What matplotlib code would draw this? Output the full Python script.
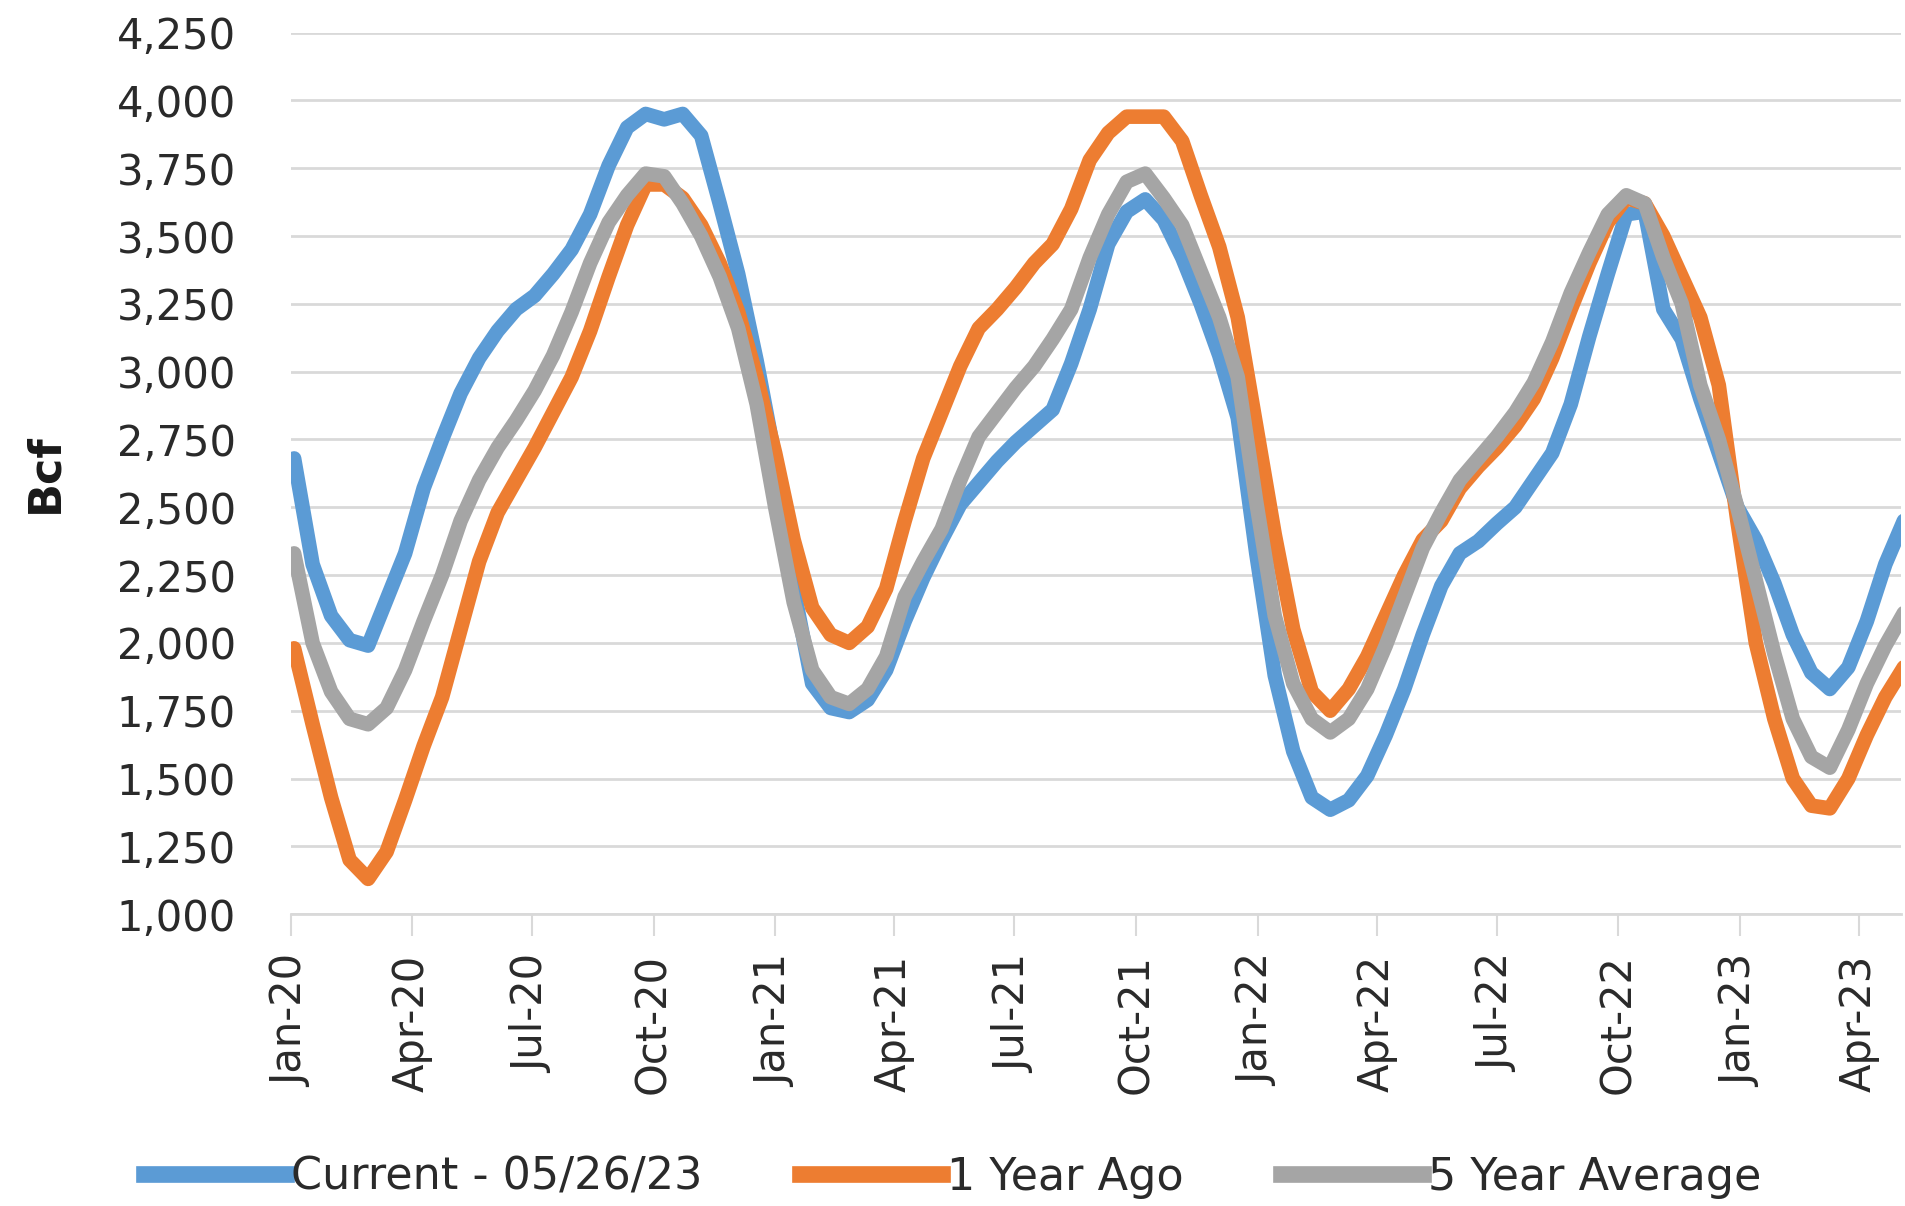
import matplotlib
matplotlib.use('Agg')
import matplotlib.pyplot as plt
import matplotlib.dates as mdates
from matplotlib.lines import Line2D
import matplotlib.ticker as mticker
import pandas as pd

# weekly storage report dates, sampled every second week
dates = pd.date_range('2020-01-03', periods=88, freq='14D')

current = [2680, 2290, 2100, 2010, 1990, 2160, 2330, 2570, 2750, 2920,
           3050, 3150, 3230, 3280, 3360, 3450, 3580, 3760, 3900, 3950,
           3930, 3950, 3870, 3620, 3360, 3040, 2680, 2200, 1850, 1760,
           1745, 1790, 1900, 2080, 2240, 2380, 2510, 2590, 2670, 2740,
           2800, 2860, 3030, 3230, 3470, 3590, 3635, 3560, 3420, 3250,
           3060, 2830, 2330, 1880, 1600, 1430, 1385, 1420, 1510, 1660,
           1830, 2030, 2210, 2330, 2375, 2440, 2500, 2600, 2700, 2880,
           3130, 3360, 3580, 3590, 3230, 3120, 2900, 2700, 2500, 2380,
           2220, 2030, 1890, 1830, 1910, 2080, 2290, 2450]

year_ago = [1980, 1700, 1430, 1200, 1130, 1230, 1420, 1620, 1800, 2050,
            2300, 2480, 2600, 2720, 2850, 2980, 3150, 3350, 3540, 3690,
            3690, 3640, 3540, 3400, 3220, 2980, 2700, 2380, 2130, 2030,
            2000, 2060, 2200, 2450, 2680, 2850, 3020, 3160, 3230, 3310,
            3400, 3470, 3600, 3780, 3880, 3940, 3940, 3940, 3850, 3650,
            3460, 3200, 2800, 2400, 2050, 1820, 1750, 1830, 1950, 2100,
            2250, 2380, 2450, 2570, 2650, 2720, 2800, 2900, 3050, 3230,
            3400, 3550, 3640, 3620, 3500, 3350, 3200, 2950, 2450, 2000,
            1720, 1500, 1400, 1390, 1500, 1660, 1800, 1910]

five_year = [2330, 2000, 1820, 1720, 1700, 1760, 1900, 2080, 2250, 2450,
             2600, 2720, 2820, 2930, 3060, 3220, 3400, 3550, 3650, 3730,
             3720, 3620, 3500, 3350, 3160, 2880, 2500, 2150, 1900, 1800,
             1775, 1830, 1950, 2170, 2300, 2420, 2600, 2760, 2850, 2940,
             3020, 3120, 3230, 3420, 3580, 3700, 3730, 3640, 3540, 3370,
             3200, 2980, 2520, 2100, 1850, 1720, 1670, 1720, 1830, 1990,
             2170, 2350, 2480, 2600, 2680, 2760, 2850, 2960, 3110, 3290,
             3440, 3580, 3650, 3620, 3420, 3250, 2950, 2750, 2500, 2230,
             1960, 1720, 1580, 1540, 1680, 1850, 1990, 2110]

labels = ['Current - 05/26/23', '1 Year Ago', '5 Year Average']
colors = ['#5b9bd5', '#ed7d31', '#a5a5a5']
yticks = list(range(1000, 4251, 250))

plt.rcParams['font.family'] = ['DejaVu Sans']
txt = '#2a2a2a'
grid_c = '#d9d9d9'

fig = plt.figure(figsize=(19.05, 12.06), dpi=100)
ax = fig.add_axes([0.153, 0.242, 0.845, 0.731])

for series, c in zip([current, year_ago, five_year], colors):
    ax.plot(dates, series, color=c, lw=10.5, solid_joinstyle='round',
            solid_capstyle='round')

ax.set_ylim(1000, 4250)
ax.set_yticks(yticks)
ax.yaxis.set_major_formatter(mticker.FuncFormatter(lambda v, p: '{:,.0f}'.format(v)))
ax.set_xlim(pd.Timestamp('2020-01-01'), pd.Timestamp('2023-05-03'))
ax.set_xticks(pd.date_range('2020-01-01', '2023-04-01', freq='QS'))
ax.xaxis.set_major_formatter(mdates.DateFormatter('%b-%y'))

ax.yaxis.grid(True, color=grid_c, lw=2)
ax.set_axisbelow(True)
for s in ['top', 'right', 'left']:
    ax.spines[s].set_visible(False)
ax.spines['bottom'].set_color(grid_c)
ax.spines['bottom'].set_linewidth(2)

ax.tick_params(axis='y', length=0, pad=40, labelsize=30, labelcolor=txt)
ax.tick_params(axis='x', length=16, width=1.5, color=grid_c, pad=13,
               labelsize=30, labelcolor=txt, labelrotation=90)

ax.set_ylabel('Bcf', fontsize=32, fontweight='bold', color='#1a1a1a')
ax.yaxis.set_label_coords(-0.14, 0.5)

handles = [Line2D([], [], color=c, lw=12) for c in colors]
fig.legend(handles, labels, loc='center', bbox_to_anchor=(0.5, 0.024),
           ncol=3, frameon=False, fontsize=32, handlelength=3.2,
           handletextpad=0.1, columnspacing=2.2, labelcolor=txt)

fig.savefig('out.png', dpi=100)
